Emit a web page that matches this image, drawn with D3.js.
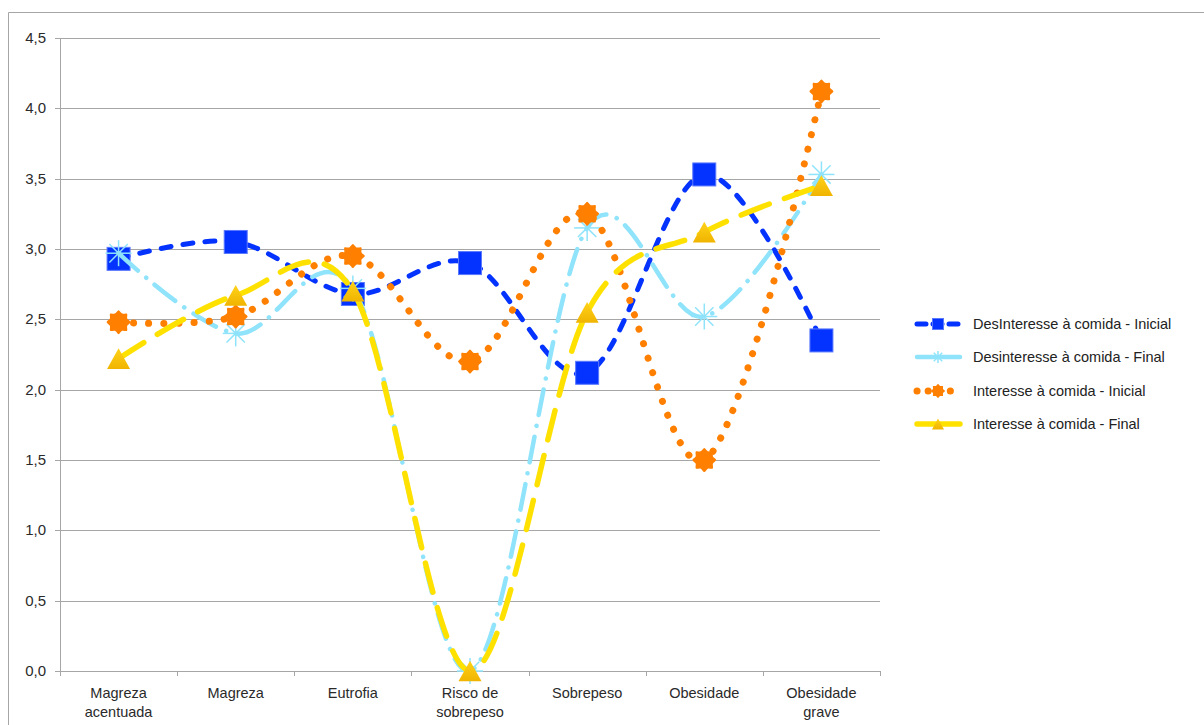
<!DOCTYPE html>
<html>
<head>
<meta charset="utf-8">
<script src="https://cdn.jsdelivr.net/npm/d3@7"></script>
<style>
  body { margin: 0; background: #fff; }
  svg { font-family: "Liberation Sans", Arial, sans-serif; }
</style>
</head>
<body>
<svg id="chart" width="1204" height="725"></svg>
<script>
// categories and series
const categories = [
  ["Magreza", "acentuada"], ["Magreza"], ["Eutrofia"], ["Risco de", "sobrepeso"],
  ["Sobrepeso"], ["Obesidade"], ["Obesidade", "grave"]
];
const yTicks = [0, 0.5, 1, 1.5, 2, 2.5, 3, 3.5, 4, 4.5];

const desInicial = [2.93, 3.05, 2.68, 2.90, 2.12, 3.53, 2.35];
const desFinal = [2.97, 2.40, 2.72, 0.0, 3.15, 2.52, 3.53];
const intInicial = [2.48, 2.52, 2.95, 2.20, 3.25, 1.50, 4.12];
const intFinal = [2.22, 2.67, 2.70, 0.0, 2.55, 3.12, 3.45];

const seriesNames = [
  "DesInteresse à comida - Inicial",
  "Desinteresse à comida - Final",
  "Interesse à comida - Inicial",
  "Interesse à comida - Final"
];

const svg = d3.select("#chart");
const plotL = 60, plotR = 880, plotT = 38, plotB = 671;

const x = d3.scalePoint().domain(d3.range(categories.length)).range([plotL, plotR]).padding(0.5);
const y = d3.scaleLinear().domain([0, 4.5]).range([plotB, plotT]);
const step = x.step();

// outer frame (top and left only)
svg.append("line").attr("x1", 8.5).attr("x2", 1204).attr("y1", 12.5).attr("y2", 12.5).attr("stroke", "#a6a6a6");
svg.append("line").attr("x1", 8.5).attr("x2", 8.5).attr("y1", 12.5).attr("y2", 725).attr("stroke", "#a6a6a6");

// gridlines
svg.append("g").selectAll("line").data(yTicks).join("line")
  .attr("x1", plotL - 5).attr("x2", plotR)
  .attr("y1", d => Math.round(y(d)) + 0.5).attr("y2", d => Math.round(y(d)) + 0.5)
  .attr("stroke", "#a6a6a6");

// y axis line
svg.append("line").attr("x1", plotL + 0.5).attr("x2", plotL + 0.5).attr("y1", plotT).attr("y2", plotB + 0.5).attr("stroke", "#a6a6a6");

// y labels
svg.append("g").selectAll("text").data(yTicks).join("text")
  .attr("x", 46).attr("y", d => y(d) + 5)
  .attr("text-anchor", "end").attr("font-size", 15).attr("fill", "#2a2a2a")
  .text(d => d3.format(".1f")(d).replace(".", ","));

// x tick marks at band boundaries
svg.append("g").selectAll("line").data(d3.range(categories.length + 1)).join("line")
  .attr("x1", i => Math.round(plotL + i * step) + 0.5).attr("x2", i => Math.round(plotL + i * step) + 0.5)
  .attr("y1", plotB).attr("y2", plotB + 5)
  .attr("stroke", "#a6a6a6");

// x labels
const xl = svg.append("g").selectAll("text").data(categories).join("text")
  .attr("text-anchor", "middle").attr("font-size", 14.5).attr("fill", "#2a2a2a");
xl.each(function(lines, i) {
  d3.select(this).selectAll("tspan").data(lines).join("tspan")
    .attr("x", x(i)).attr("y", (d, j) => 698 + j * 19).text(d => d);
});

// gradient for triangle markers
const defs = svg.append("defs");
const grad = defs.append("linearGradient").attr("id", "tri").attr("x1", 0).attr("y1", 0).attr("x2", 0).attr("y2", 1);
grad.append("stop").attr("offset", "0%").attr("stop-color", "#ffd21a");
grad.append("stop").attr("offset", "100%").attr("stop-color", "#f0b400");

// marker shapes
function square(g, s) {
  g.append("rect").attr("x", -s / 2).attr("y", -s / 2).attr("width", s).attr("height", s)
    .attr("fill", "#0433ff").attr("stroke", "#5a78ff").attr("stroke-width", 1);
}
function asterisk(g, r) {
  d3.range(8).forEach(k => {
    const a = k * Math.PI / 4;
    g.append("line").attr("x1", 0).attr("y1", 0)
      .attr("x2", r * Math.cos(a)).attr("y2", r * Math.sin(a))
      .attr("stroke", "#8fe3fb").attr("stroke-width", 1.5);
  });
}
function blob(g, r) {
  const pts = d3.range(16).map(k => [k * Math.PI / 8, k % 2 === 0 ? r : r * 0.78]);
  g.append("path")
    .attr("d", d3.lineRadial().curve(d3.curveCardinalClosed.tension(0.1))(pts))
    .attr("fill", "#ff7f00");
}
function triangle(g, s) {
  const h = s * 0.9;
  g.append("path")
    .attr("d", `M0,${-h / 2}L${s / 2},${h / 2}L${-s / 2},${h / 2}Z`)
    .attr("fill", "url(#tri)");
}

const series = [
  { name: seriesNames[0], values: desInicial, color: "#0433ff", width: 5, dash: "10,12", marker: square, msize: 23, lmsize: 11 },
  { name: seriesNames[1], values: desFinal, color: "#8fe3fb", width: 4.5, dash: "26,11,0.1,11", marker: asterisk, msize: 13, lmsize: 6 },
  { name: seriesNames[2], values: intInicial, color: "#ff7f00", width: 7, dash: "0.1,15", marker: blob, msize: 12, lmsize: 7 },
  { name: seriesNames[3], values: intFinal, color: "#ffe100", width: 5.5, dash: "30,16", marker: triangle, msize: 23, lmsize: 12 }
];

const line = d3.line().x((d, i) => x(i)).y(d => y(d)).curve(d3.curveCardinal.tension(0));

series.forEach(s => {
  const g = svg.append("g");
  g.append("path").datum(s.values)
    .attr("d", line)
    .attr("fill", "none").attr("stroke", s.color).attr("stroke-width", s.width)
    .attr("stroke-dasharray", s.dash).attr("stroke-linecap", "round");
  s.values.forEach((v, i) => {
    const m = g.append("g").attr("transform", `translate(${x(i)},${y(v)})`);
    s.marker(m, s.msize);
  });
});

// legend
const legY = [324, 357, 391, 424];
series.forEach((s, i) => {
  const g = svg.append("g").attr("transform", `translate(0,${legY[i]})`);
  g.append("line").attr("x1", 917).attr("x2", 960).attr("y1", 0).attr("y2", 0)
    .attr("stroke", s.color).attr("stroke-width", s.width)
    .attr("stroke-dasharray", s.dash === "0.1,15" ? "0.1,11" : s.dash === "10,12" ? "9,7" : null)
    .attr("stroke-linecap", "round");
  const m = g.append("g").attr("transform", "translate(938,0)");
  s.marker(m, s.lmsize);
  g.append("text").attr("x", 973).attr("y", 5).attr("font-size", 14.5).attr("fill", "#222").text(s.name);
});
</script>
</body>
</html>
